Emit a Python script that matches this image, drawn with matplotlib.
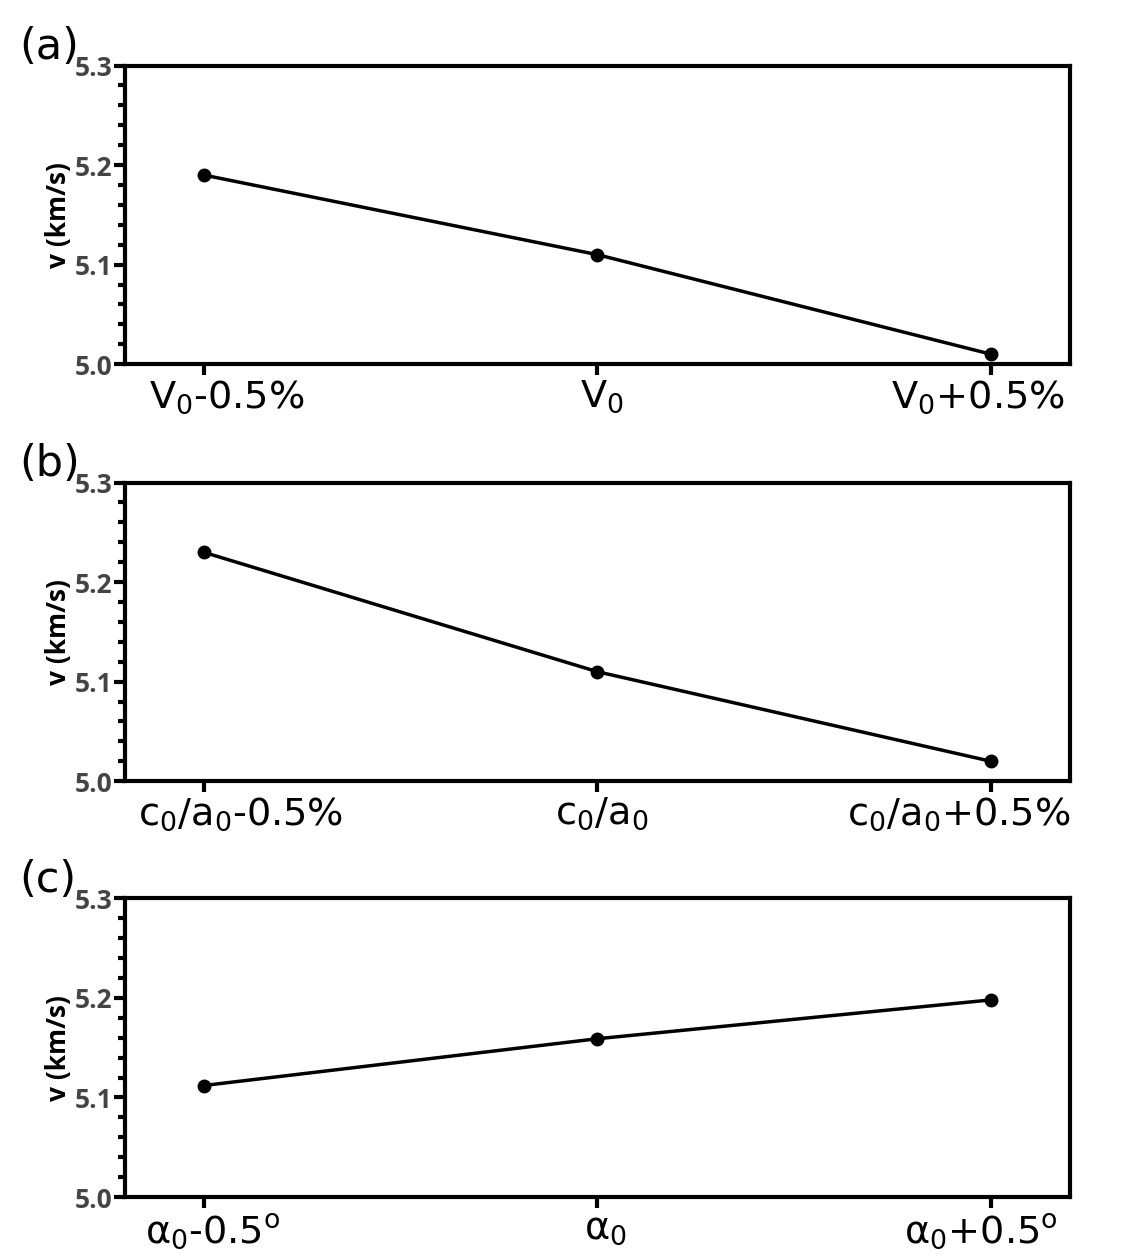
import matplotlib
matplotlib.use('Agg')
import matplotlib.pyplot as plt
from matplotlib.ticker import MultipleLocator

plt.rcParams['mathtext.default'] = 'regular'

# values
x_pos = [0, 1, 2]
v_a = [5.19, 5.11, 5.01]
v_b = [5.23, 5.11, 5.02]
v_c = [5.112, 5.159, 5.198]
labels_a = [r'V$_0$-0.5%', r'V$_0$', r'V$_0$+0.5%']
labels_b = [r'c$_0$/a$_0$-0.5%', r'c$_0$/a$_0$', r'c$_0$/a$_0$+0.5%']
labels_c = [r'$\alpha_0$-0.5$^o$', r'$\alpha_0$', r'$\alpha_0$+0.5$^o$']
panel_tags = ['(a)', '(b)', '(c)']
y_ticks = [5.0, 5.1, 5.2, 5.3]

# the original tick labels sit a bit off their ticks (pixels)
shift_a = [23, 5, -13]
shift_b = [37, 4, -32]
shift_c = [9, 8, -10]

fig = plt.figure(figsize=(11.26, 12.6), dpi=100)
bottoms = [0.711, 0.380, 0.050]
L, W, H = 0.111, 0.839, 0.237

for tag, b, vals, labs, shifts in zip(panel_tags, bottoms, [v_a, v_b, v_c],
                                      [labels_a, labels_b, labels_c],
                                      [shift_a, shift_b, shift_c]):
    ax = fig.add_axes([L, b, W, H])
    ax.plot(x_pos, vals, color='black', lw=2.5, marker='o', ms=9)
    ax.set_xlim(-0.2, 2.2)
    ax.set_ylim(5.0, 5.3)
    ax.set_yticks(y_ticks)
    ax.set_yticklabels([f'{t:.1f}' for t in y_ticks], family='Open Sans',
                       fontweight='bold', color='#444444', fontsize=19)
    ax.yaxis.set_minor_locator(MultipleLocator(0.02))
    ax.set_xticks(x_pos)
    ax.set_xticklabels([])
    for x, lab, dx in zip(x_pos, labs, shifts):
        ax.annotate(lab, xy=(x, 0), xycoords=ax.get_xaxis_transform(),
                    xytext=(dx, -14), textcoords='offset pixels',
                    ha='center', va='top', fontsize=27.5,
                    annotation_clip=False)
    for s in ax.spines.values():
        s.set_linewidth(3)
    ax.tick_params(axis='both', which='major', width=3, length=8, pad=1)
    ax.tick_params(axis='y', which='minor', width=3, length=5)
    ax.set_ylabel('v (km/s)', family='Open Sans', fontweight='bold',
                  fontsize=19, labelpad=2)
    fig.text(0.017, b + H - 0.002, tag, fontsize=31, ha='left', va='bottom')

fig.savefig('out.png', dpi=100)
